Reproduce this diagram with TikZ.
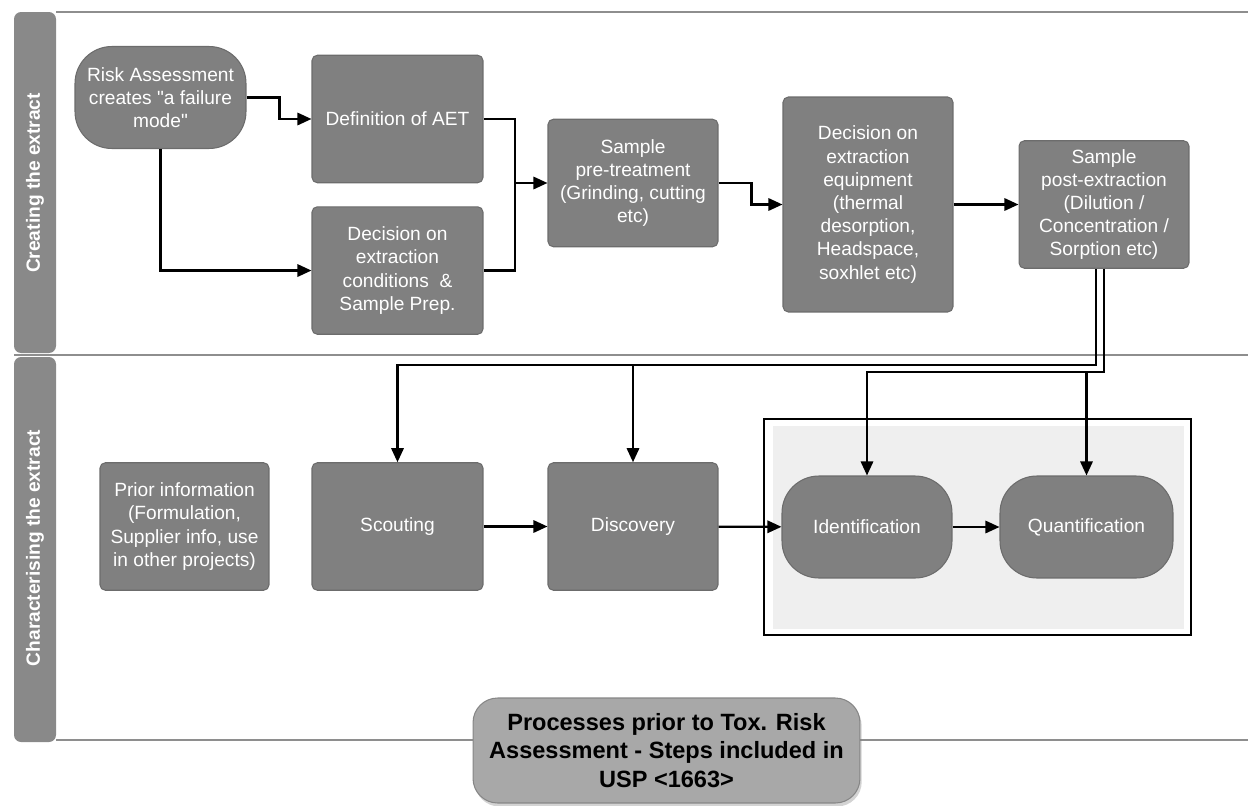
\documentclass[tikz,border=0pt]{standalone}
\usepackage{fontspec}
\setmainfont{Liberation Sans}[Ligatures=TeXOff]
\usetikzlibrary{positioning, arrows.meta, calc, shadows}
\definecolor{boxgray}{HTML}{808080}
\definecolor{boxedge}{HTML}{6C6C6C}
\definecolor{lanegray}{HTML}{898989}
\definecolor{framegray}{HTML}{8E8E8E}
\definecolor{titlegray}{HTML}{A8A8A8}
\definecolor{groupfill}{HTML}{EFEFEF}

\begin{document}
\begin{tikzpicture}[
  x=0.02cm, y=-0.02cm,
  procbox/.style={
    draw=boxedge, fill=boxgray, rounded corners=3pt,
    line width=0.6pt, text=white, align=center, inner sep=2pt,
    minimum width=3.4cm, minimum height=2.55cm,
    font=\fontsize{10.9}{13.2}\selectfont,
  },
  termbox/.style={procbox, rounded corners=21pt, minimum height=2.04cm},
  titlebox/.style={
    draw=titlegray!80!black, fill=titlegray, rounded corners=14pt,
    line width=0.6pt, align=center, text=black,
    minimum width=7.74cm, minimum height=2.1cm,
    font=\bfseries\fontsize{13.4}{16}\selectfont,
    drop shadow={opacity=0.35, shadow xshift=1pt, shadow yshift=-2pt},
  },
  lanelabel/.style={rotate=90, text=white, font=\bfseries\fontsize{10.9}{13}\selectfont},
  frame/.style={draw=framegray, line width=1.1pt},
  arr/.style={-{Triangle[length=8pt, width=7pt]}, line width=1.3pt, black},
  wire/.style={line width=1.3pt, black},
]
\useasboundingbox (0,0) rectangle (1248,805);

% === SWIMLANE FRAME ===
\fill[lanegray, rounded corners=4pt] (14,12) rectangle (56,353);
\fill[lanegray, rounded corners=4pt] (14,357) rectangle (56,742);
\draw[frame] (56,12) -- (1248,12);
\draw[frame] (14,355) -- (1248,355);
\draw[frame] (56,740) -- (1248,740);

\node[lanelabel] (lane1) at (35,183) {Creating the extract};
\node[lanelabel] (lane2) at (35,548) {Characterising the extract};

% === CREATING THE EXTRACT (top lane) ===
\node[termbox, minimum width=3.42cm] (risk) at (160.5,97.5) {Risk Assessment\\creates "a failure\\mode"};
\node[procbox, minimum width=3.42cm] (aet) at (397.5,119) {Definition of AET};
\node[procbox, minimum width=3.42cm, below=0.46cm of aet] (cond) {Decision on\\extraction\\conditions~ \&\\Sample Prep.};
\node[procbox] (pretreat) at (633,183) {Sample\\pre-treatment\\(Grinding, cutting\\etc)};
\node[procbox, minimum height=4.3cm] (equip) at (868,204.5) {Decision on\\extraction\\equipment\\(thermal\\desorption,\\Headspace,\\soxhlet etc)};
\node[procbox] (postext) at (1104,204.5) {Sample\\post-extraction\\(Dilution /\\Concentration /\\Sorption etc)};

\draw[arr] (risk.east) -- ++(33,0) |- (aet.west);
\draw[arr] (risk.south) |- (cond.west);

\coordinate (join) at (515,183);
\draw[wire] (aet.east) -| (join);
\draw[wire] (cond.east) -| (join);
\draw[arr] (join) -- (pretreat.west);

\draw[arr] (pretreat.east) -- ++(33,0) |- (equip.west);
\draw[arr] (equip) -- (postext);

% === CHARACTERISING THE EXTRACT (bottom lane) ===
\node[draw=black, line width=1.2pt, fill=white, minimum width=8.54cm, minimum height=4.32cm] (group) at (977.5,527) {};
\fill[groupfill] ($(group.south west)+(10,-7)$) rectangle ($(group.north east)+(-8,8)$);

\node[procbox, minimum width=3.38cm] (prior) at (184.5,526.5) {Prior information\\(Formulation,\\Supplier info, use\\in other projects)};
\node[procbox, minimum width=3.42cm] (scout) at (397.5,526.5) {Scouting};
\node[procbox] (disc) at (633,526.5) {Discovery};
\node[termbox] (ident) at (867,527) {Identification};
\node[termbox, minimum width=3.46cm] (quant) at (1086.5,527) {Quantification};

\draw[arr] (scout) -- (disc);
\draw[arr] (disc) -- (ident);
\draw[arr] (ident) -- (quant);

% feeds from the post-extraction step
\coordinate (tapA) at (1096,365);
\coordinate (tapB) at (1104,372);
\draw[arr] (postext.south -| tapA) -- (tapA) -| (scout.north);
\draw[arr] (disc.north |- tapA) -- (disc.north);
\draw[arr] (postext.south -| tapB) -- (tapB) -| (ident.north);
\draw[arr] (quant.north |- tapB) -- (quant.north);

% === TITLE ===
\node[titlebox] (title) at (666.5,750.5) {Processes prior to Tox. Risk\\Assessment - Steps included in\\USP <1663>};

\end{tikzpicture}
\end{document}
